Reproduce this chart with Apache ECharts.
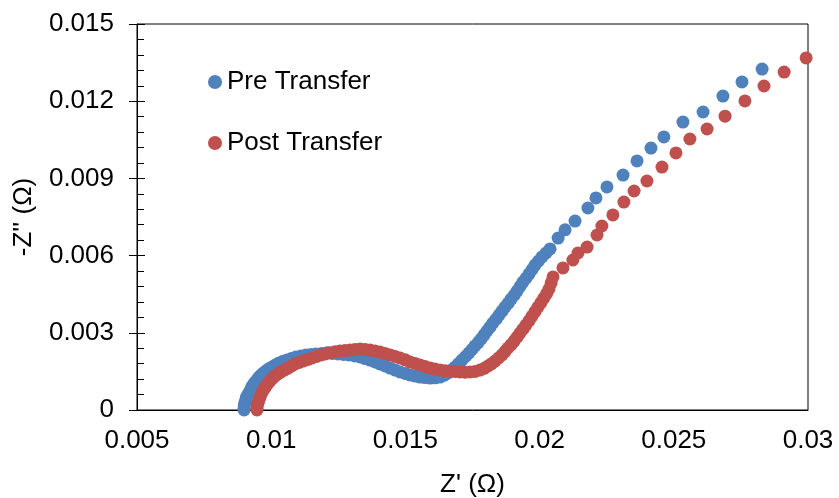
<!DOCTYPE html>
<html lang="en">
<head>
    <meta charset="UTF-8">
    <title>Nyquist</title>
    <script src="https://cdn.jsdelivr.net/npm/echarts@6/dist/echarts.min.js"></script>
    <style>
        body { margin: 0; background: #fff; }
    </style>
</head>
<body>
<div id="main" style="width: 839px;height:498px;"></div>
<script>
    // Pre Transfer (blue)
    var preX = [0.00899, 0.00899, 0.00900, 0.00902, 0.00905, 0.00908, 0.00914, 0.00921, 0.00926, 0.00932,
        0.00939, 0.00947, 0.00954, 0.00962, 0.00971, 0.00981, 0.00991, 0.01003, 0.01016, 0.01029,
        0.01044, 0.01059, 0.01075, 0.01092, 0.01111, 0.01130, 0.01148, 0.01167, 0.01188, 0.01208,
        0.01228, 0.01249, 0.01270, 0.01290, 0.01311, 0.01331, 0.01350, 0.01368, 0.01387, 0.01405,
        0.01424, 0.01443, 0.01462, 0.01480, 0.01499, 0.01517, 0.01536, 0.01554, 0.01573, 0.01592,
        0.01611, 0.01629, 0.01645, 0.01659, 0.01672, 0.01685, 0.01698, 0.01711, 0.01724, 0.01737,
        0.01748, 0.01759, 0.01771, 0.01782, 0.01793, 0.01804, 0.01815, 0.01826, 0.01838, 0.01849,
        0.01860, 0.01871, 0.01883, 0.01894, 0.01905, 0.01916, 0.01927, 0.01938, 0.01950, 0.01961,
        0.01972, 0.01983, 0.01996, 0.02009, 0.02024, 0.02039, 0.02069, 0.02095, 0.02132, 0.02180,
        0.02210, 0.02251, 0.02311, 0.02363, 0.02415, 0.02463, 0.02534, 0.02609, 0.02683, 0.02754,
        0.02829];
    var preY = [0.00000, 0.00008, 0.00018, 0.00027, 0.00038, 0.00050, 0.00062, 0.00074, 0.00086, 0.00097,
        0.00107, 0.00117, 0.00127, 0.00136, 0.00144, 0.00152, 0.00160, 0.00167, 0.00175, 0.00183,
        0.00189, 0.00194, 0.00200, 0.00206, 0.00210, 0.00214, 0.00216, 0.00218, 0.00220, 0.00222,
        0.00220, 0.00218, 0.00216, 0.00214, 0.00210, 0.00206, 0.00200, 0.00194, 0.00187, 0.00179,
        0.00171, 0.00163, 0.00155, 0.00148, 0.00142, 0.00136, 0.00132, 0.00128, 0.00126, 0.00124,
        0.00125, 0.00128, 0.00135, 0.00144, 0.00155, 0.00167, 0.00180, 0.00194, 0.00208, 0.00222,
        0.00235, 0.00249, 0.00262, 0.00276, 0.00291, 0.00307, 0.00322, 0.00338, 0.00353, 0.00369,
        0.00384, 0.00400, 0.00415, 0.00431, 0.00446, 0.00462, 0.00480, 0.00497, 0.00513, 0.00529,
        0.00546, 0.00563, 0.00579, 0.00595, 0.00610, 0.00626, 0.00668, 0.00700, 0.00734, 0.00785,
        0.00824, 0.00867, 0.00913, 0.00968, 0.01018, 0.01061, 0.01119, 0.01158, 0.01220, 0.01275,
        0.01325];

    // Post Transfer (red)
    var postX = [0.00947, 0.00947, 0.00948, 0.00951, 0.00954, 0.00958, 0.00963, 0.00969, 0.00975, 0.00981,
        0.00988, 0.00996, 0.01005, 0.01014, 0.01025, 0.01037, 0.01050, 0.01063, 0.01076, 0.01089,
        0.01104, 0.01119, 0.01135, 0.01152, 0.01169, 0.01186, 0.01202, 0.01219, 0.01238, 0.01256,
        0.01275, 0.01294, 0.01312, 0.01331, 0.01350, 0.01368, 0.01387, 0.01405, 0.01424, 0.01443,
        0.01462, 0.01480, 0.01499, 0.01517, 0.01536, 0.01554, 0.01573, 0.01592, 0.01610, 0.01629,
        0.01648, 0.01666, 0.01685, 0.01703, 0.01722, 0.01741, 0.01760, 0.01778, 0.01794, 0.01808,
        0.01821, 0.01834, 0.01847, 0.01860, 0.01871, 0.01882, 0.01894, 0.01905, 0.01916, 0.01927,
        0.01938, 0.01949, 0.01961, 0.01972, 0.01983, 0.01994, 0.02005, 0.02016, 0.02026, 0.02035,
        0.02043, 0.02050, 0.02087, 0.02124, 0.02143, 0.02177, 0.02214, 0.02232, 0.02273, 0.02314,
        0.02352, 0.02400, 0.02456, 0.02508, 0.02560, 0.02624, 0.02691, 0.02765, 0.02836, 0.02911,
        0.02993];
    var postY = [0.00000, 0.00008, 0.00018, 0.00027, 0.00038, 0.00050, 0.00062, 0.00074, 0.00084, 0.00093,
        0.00103, 0.00113, 0.00123, 0.00132, 0.00140, 0.00148, 0.00156, 0.00163, 0.00171, 0.00179,
        0.00185, 0.00190, 0.00196, 0.00202, 0.00208, 0.00214, 0.00218, 0.00222, 0.00226, 0.00229,
        0.00231, 0.00233, 0.00235, 0.00237, 0.00235, 0.00233, 0.00229, 0.00225, 0.00220, 0.00214,
        0.00208, 0.00202, 0.00195, 0.00187, 0.00181, 0.00175, 0.00169, 0.00163, 0.00159, 0.00155,
        0.00153, 0.00152, 0.00150, 0.00148, 0.00147, 0.00148, 0.00150, 0.00155, 0.00162, 0.00171,
        0.00180, 0.00190, 0.00202, 0.00214, 0.00227, 0.00241, 0.00254, 0.00268, 0.00283, 0.00299,
        0.00314, 0.00330, 0.00347, 0.00365, 0.00382, 0.00400, 0.00417, 0.00435, 0.00452, 0.00470,
        0.00494, 0.00517, 0.00552, 0.00583, 0.00610, 0.00633, 0.00680, 0.00715, 0.00758, 0.00808,
        0.00851, 0.00890, 0.00944, 0.00999, 0.01053, 0.01092, 0.01142, 0.01201, 0.01259, 0.01313,
        0.01368];

    var seriesNames = ['Pre Transfer', 'Post Transfer'];

    function pairs(xs, ys) {
        var out = [];
        for (var i = 0; i < xs.length; i++) {
            out.push([xs[i], ys[i]]);
        }
        return out;
    }

    var font = 'Liberation Sans, Arial, sans-serif';
    var fs = 26;
    var myChart = echarts.init(document.getElementById('main'));
    myChart.setOption({
        animation: false,
        textStyle: { fontFamily: font },
        grid: {
            left: 137, right: 31, top: 24, bottom: 88,
            outerBoundsMode: 'none',
            containLabel: false,
            show: true, borderColor: '#000', borderWidth: 1
        },
        legend: {
            orient: 'vertical',
            left: 203, top: 64,
            icon: 'circle',
            itemWidth: 14, itemHeight: 14,
            itemGap: 35,
            data: seriesNames,
            textStyle: { fontSize: fs, color: '#000', fontFamily: font }
        },
        xAxis: {
            type: 'value',
            min: 0.005, max: 0.03, interval: 0.005,
            name: "Z' (Ω)",
            nameLocation: 'middle',
            nameGap: 62,
            nameTextStyle: { fontSize: fs, color: '#000', fontFamily: font },
            axisLine: { lineStyle: { color: '#000' } },
            axisTick: { show: false },
            splitLine: { show: false },
            axisLabel: {
                fontSize: fs, color: '#000', margin: 18, fontFamily: font,
                formatter: function (v) { return String(parseFloat(v.toFixed(3))); }
            }
        },
        yAxis: [{
            type: 'value',
            min: 0, max: 0.015, interval: 0.003,
            name: "-Z'' (Ω)",
            nameLocation: 'middle',
            nameGap: 100,
            nameTextStyle: { fontSize: fs, color: '#000', fontFamily: font },
            axisLine: { show: true, lineStyle: { color: '#000' } },
            axisTick: { show: true, length: 8, lineStyle: { color: '#000' } },
            splitLine: { show: false },
            axisLabel: {
                fontSize: fs, color: '#000', margin: 23, fontFamily: font,
                formatter: function (v) { return v === 0 ? '0' : v.toFixed(3); }
            }
        }, {
            type: 'value',
            position: 'left',
            min: 0, max: 0.015, interval: 0.003,
            axisLine: { show: false },
            axisLabel: { show: false },
            splitLine: { show: false },
            axisTick: { show: true, inside: true, length: 8, lineStyle: { color: '#000' } },
            minorTick: { show: true, splitNumber: 5, length: 7, lineStyle: { color: '#000' } }
        }],
        series: [{
            name: seriesNames[0],
            type: 'scatter',
            symbolSize: 13,
            itemStyle: { color: '#4F81BD', opacity: 1 },
            data: pairs(preX, preY)
        }, {
            name: seriesNames[1],
            type: 'scatter',
            symbolSize: 13,
            itemStyle: { color: '#C0504D', opacity: 1 },
            data: pairs(postX, postY)
        }]
    });
</script>
</body>
</html>
